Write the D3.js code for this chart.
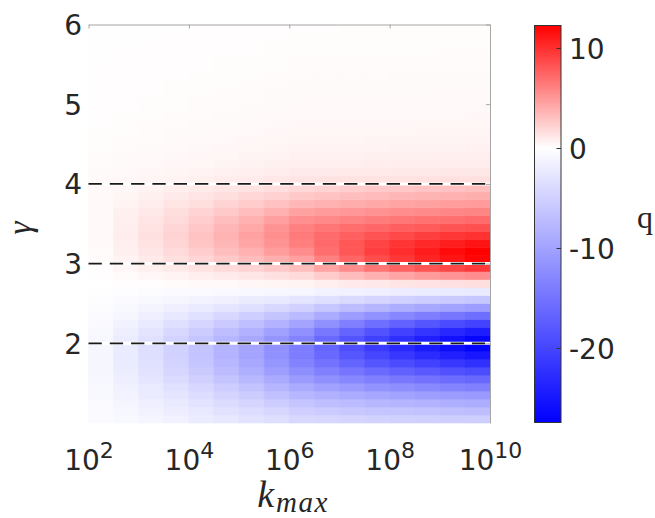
<!DOCTYPE html>
<html>
<head>
<meta charset="utf-8">
<script src="https://cdn.jsdelivr.net/npm/d3@7"></script>
<style>
  html, body { margin: 0; padding: 0; background: #ffffff; }
  svg { display: block; }
</style>
</head>
<body>
<svg id="chart" width="655" height="518"></svg>
<script>
// Grid cell edges: log10(k_max) along x, gamma along y
const logKEdges = [2, 2.5, 3, 3.5, 4, 4.5, 5, 5.5, 6, 6.5, 7, 7.5, 8, 8.5, 9, 9.5, 10];
const gammaEdges = [1.0, 1.1, 1.2, 1.3, 1.4, 1.5, 1.6, 1.7, 1.8, 1.9,
                    2.0, 2.1, 2.2, 2.3, 2.4, 2.5, 2.6, 2.7, 2.8, 2.9,
                    3.0, 3.1, 3.2, 3.3, 3.4, 3.5, 3.6, 3.7, 3.8, 3.9,
                    4.0, 4.1, 4.2, 4.3, 4.4, 4.5, 4.6, 4.7, 4.8, 4.9,
                    5.0, 5.1, 5.2, 5.3, 5.4, 5.5, 5.6, 5.7, 5.8, 5.9, 6.0];

// q values: one row per gamma cell (lowest gamma first), one column per k_max cell
const q = [
  [-0.4,-0.7,-1.1,-1.5,-2.0,-2.5,-3.0,-3.6,-4.2,-4.4,-4.6,-4.8,-4.9,-5.1,-5.2,-5.3],
  [-0.5,-0.9,-1.4,-1.9,-2.5,-3.1,-3.7,-4.4,-5.2,-5.6,-5.9,-6.2,-6.4,-6.6,-6.8,-7.0],
  [-0.6,-1.1,-1.7,-2.3,-3.0,-3.8,-4.5,-5.5,-6.4,-6.9,-7.3,-7.7,-8.0,-8.3,-8.6,-8.8],
  [-0.7,-1.3,-2.1,-2.8,-3.7,-4.6,-5.5,-6.7,-7.8,-8.4,-9.0,-9.5,-10.0,-10.4,-10.7,-11.0],
  [-0.8,-1.6,-2.4,-3.3,-4.3,-5.4,-6.5,-7.9,-9.2,-10.1,-10.9,-11.6,-12.2,-12.7,-13.2,-13.6],
  [-0.9,-1.8,-2.8,-3.9,-5.1,-6.3,-7.6,-9.2,-10.8,-11.9,-12.9,-13.8,-14.5,-15.2,-15.8,-16.3],
  [-1.0,-2.0,-3.1,-4.4,-5.7,-7.2,-8.6,-10.4,-12.2,-13.6,-14.9,-16.0,-17.0,-17.9,-18.7,-19.3],
  [-1.0,-2.1,-3.3,-4.7,-6.2,-7.8,-9.4,-11.3,-13.3,-15.1,-16.7,-18.2,-19.4,-20.5,-21.5,-22.3],
  [-1.0,-2.2,-3.5,-4.9,-6.5,-8.2,-9.8,-11.9,-14.0,-16.2,-18.2,-19.9,-21.5,-22.8,-24.0,-25.0],
  [-1.0,-2.2,-3.5,-4.9,-6.5,-8.2,-9.8,-11.9,-14.0,-16.6,-19.0,-21.1,-23.0,-24.6,-26.0,-27.2],
  [-0.9,-2.0,-3.3,-4.7,-6.2,-7.8,-9.4,-11.4,-13.4,-16.1,-18.5,-20.6,-22.5,-24.1,-25.6,-26.8],
  [-0.8,-1.8,-2.9,-4.2,-5.5,-7.0,-8.4,-10.2,-12.0,-14.5,-16.7,-18.6,-20.4,-21.8,-23.2,-24.3],
  [-0.6,-1.4,-2.4,-3.4,-4.5,-5.7,-6.9,-8.3,-9.8,-11.9,-13.8,-15.5,-16.9,-18.2,-19.4,-20.3],
  [-0.4,-1.0,-1.7,-2.5,-3.3,-4.3,-5.2,-6.3,-7.4,-9.0,-10.5,-11.8,-12.9,-13.9,-14.8,-15.5],
  [-0.3,-0.7,-1.2,-1.7,-2.2,-2.8,-3.4,-4.2,-4.9,-6.0,-7.0,-7.9,-8.7,-9.4,-10.0,-10.5],
  [-0.2,-0.4,-0.7,-1.0,-1.3,-1.6,-2.0,-2.4,-2.8,-3.4,-4.0,-4.5,-5.0,-5.4,-5.7,-6.0],
  [-0.1,-0.2,-0.3,-0.4,-0.5,-0.6,-0.7,-0.9,-1.0,-1.3,-1.5,-1.7,-1.9,-2.0,-2.2,-2.3],
  [0.0,0.1,0.1,0.2,0.3,0.3,0.4,0.5,0.6,0.8,1.0,1.1,1.3,1.4,1.5,1.6],
  [0.1,0.2,0.4,0.6,0.8,1.0,1.2,1.5,1.8,2.5,3.2,3.8,4.3,4.8,5.2,5.5],
  [0.1,0.4,0.7,1.0,1.4,1.8,2.1,2.6,3.1,4.4,5.5,6.6,7.5,8.2,8.9,9.5],
  [0.2,0.6,1.0,1.5,2.0,2.6,3.2,3.9,4.6,6.1,7.4,8.6,9.6,10.5,11.3,12.0],
  [0.2,0.7,1.2,1.8,2.4,3.1,3.8,4.7,5.5,6.9,8.1,9.2,10.1,10.9,11.7,12.3],
  [0.3,0.8,1.4,2.0,2.8,3.5,4.3,5.2,6.2,7.2,8.1,9.0,9.7,10.3,10.8,11.3],
  [0.3,0.9,1.5,2.1,2.9,3.7,4.5,5.4,6.4,7.1,7.7,8.3,8.8,9.2,9.6,9.9],
  [0.3,0.8,1.4,2.0,2.7,3.5,4.2,5.2,6.1,6.6,7.0,7.3,7.7,7.9,8.2,8.4],
  [0.3,0.8,1.3,1.8,2.4,3.1,3.8,4.6,5.4,5.7,6.0,6.3,6.6,6.8,6.9,7.1],
  [0.3,0.7,1.1,1.6,2.1,2.6,3.2,3.8,4.5,4.8,5.0,5.3,5.5,5.6,5.8,5.9],
  [0.3,0.6,0.9,1.3,1.6,2.1,2.5,3.0,3.5,3.8,4.0,4.2,4.4,4.5,4.7,4.8],
  [0.3,0.5,0.7,1.0,1.3,1.6,1.9,2.2,2.6,2.9,3.1,3.3,3.5,3.6,3.8,3.9],
  [0.3,0.4,0.6,0.8,1.0,1.2,1.4,1.6,1.9,2.1,2.4,2.6,2.7,2.9,3.0,3.1],
  [0.30,0.39,0.49,0.60,0.72,0.85,0.98,1.14,1.30,1.33,1.36,1.39,1.41,1.44,1.47,1.50],
  [0.25,0.32,0.39,0.48,0.57,0.66,0.76,0.88,1.00,1.02,1.04,1.06,1.09,1.11,1.13,1.15],
  [0.20,0.25,0.31,0.38,0.45,0.53,0.61,0.70,0.80,0.82,0.83,0.85,0.87,0.89,0.90,0.92],
  [0.18,0.22,0.27,0.32,0.38,0.44,0.51,0.58,0.66,0.68,0.69,0.71,0.72,0.74,0.75,0.77],
  [0.16,0.20,0.24,0.28,0.33,0.38,0.43,0.50,0.56,0.57,0.59,0.60,0.61,0.62,0.64,0.65],
  [0.14,0.17,0.20,0.24,0.28,0.33,0.37,0.43,0.48,0.49,0.50,0.51,0.53,0.54,0.55,0.56],
  [0.13,0.16,0.19,0.22,0.25,0.29,0.33,0.37,0.42,0.43,0.44,0.45,0.45,0.46,0.47,0.48],
  [0.12,0.14,0.17,0.20,0.23,0.26,0.29,0.33,0.37,0.38,0.38,0.39,0.40,0.41,0.41,0.42],
  [0.11,0.13,0.15,0.18,0.20,0.23,0.26,0.29,0.33,0.34,0.34,0.35,0.35,0.36,0.36,0.37],
  [0.10,0.12,0.14,0.16,0.18,0.20,0.23,0.26,0.29,0.30,0.30,0.31,0.31,0.32,0.32,0.33],
  [0.10,0.11,0.13,0.15,0.17,0.19,0.21,0.23,0.26,0.27,0.27,0.28,0.28,0.29,0.29,0.30],
  [0.09,0.10,0.12,0.14,0.15,0.17,0.19,0.22,0.24,0.24,0.25,0.25,0.26,0.26,0.27,0.27],
  [0.09,0.10,0.11,0.13,0.14,0.16,0.18,0.20,0.22,0.22,0.23,0.23,0.24,0.24,0.25,0.25],
  [0.08,0.09,0.10,0.12,0.13,0.15,0.16,0.18,0.20,0.20,0.21,0.21,0.22,0.22,0.23,0.23],
  [0.08,0.09,0.10,0.11,0.12,0.14,0.15,0.16,0.18,0.18,0.19,0.19,0.20,0.20,0.21,0.21],
  [0.07,0.08,0.09,0.10,0.11,0.13,0.14,0.15,0.17,0.17,0.18,0.18,0.18,0.19,0.19,0.19],
  [0.07,0.08,0.09,0.09,0.10,0.11,0.12,0.14,0.15,0.15,0.16,0.16,0.16,0.16,0.17,0.17],
  [0.06,0.07,0.08,0.08,0.09,0.10,0.11,0.13,0.14,0.14,0.15,0.15,0.15,0.15,0.16,0.16],
  [0.06,0.07,0.07,0.08,0.09,0.10,0.11,0.12,0.13,0.13,0.14,0.14,0.14,0.14,0.15,0.15],
  [0.05,0.06,0.06,0.07,0.08,0.09,0.10,0.11,0.12,0.12,0.13,0.13,0.13,0.13,0.14,0.14]
];

const kTickExps = [2, 4, 6, 8, 10];
const gammaTicks = [2, 3, 4, 5, 6];
const qTicks = [-20, -10, 0, 10];
const guideGammas = [2, 3, 4];
const qLimits = [-27.45, 12.25];

const textColor = "#262626";
const sansFont = "'DejaVu Sans', Verdana, sans-serif";
const serifFont = "'Liberation Serif', 'Times New Roman', serif";
const tickFontSize = 28;

const plot = { left: 88.5, right: 490, top: 24.5, bottom: 423 };
const cbar = { left: 534.5, right: 561, top: 25.5, bottom: 422.5 };

const svg = d3.select("#chart");

const x = d3.scaleLog().domain([1e2, 1e10]).range([plot.left, plot.right]);
const y = d3.scaleLinear().domain([1, 6]).range([plot.bottom, plot.top]);

// blue - white - red diverging map, white at q = 0
const color = d3.scaleLinear()
  .domain([qLimits[0], 0, qLimits[1]])
  .range(["#0000ff", "#ffffff", "#ff0000"])
  .clamp(true);

// heat map cells
const cells = [];
q.forEach((row, i) => {
  row.forEach((v, j) => {
    cells.push({ k0: Math.pow(10, logKEdges[j]), k1: Math.pow(10, logKEdges[j + 1]),
                 g0: gammaEdges[i], g1: gammaEdges[i + 1], v });
  });
});

svg.append("g")
  .selectAll("rect")
  .data(cells)
  .join("rect")
  .attr("x", d => x(d.k0))
  .attr("y", d => y(d.g1))
  .attr("width", d => x(d.k1) - x(d.k0))
  .attr("height", d => y(d.g0) - y(d.g1))
  .attr("fill", d => color(d.v))
  .attr("stroke", d => color(d.v))
  .attr("stroke-width", 0.6);

// dashed guides at gamma = 2, 3, 4 (white underlay with dark dashes)
const guides = svg.append("g");
guideGammas.forEach(g => {
  guides.append("line")
    .attr("x1", plot.left).attr("x2", plot.right)
    .attr("y1", y(g)).attr("y2", y(g))
    .attr("stroke", "#ffffff").attr("stroke-width", 3);
  guides.append("line")
    .attr("x1", plot.left).attr("x2", plot.right)
    .attr("y1", y(g)).attr("y2", y(g))
    .attr("stroke", "#1a1a1a").attr("stroke-width", 1.8)
    .attr("stroke-dasharray", "13.3,8");
});

// box: top and right edges with inward ticks
const kTickVals = kTickExps.map(e => Math.pow(10, e));
const topAxis = svg.append("g")
  .attr("transform", `translate(0,${plot.top})`)
  .call(d3.axisTop(x).tickValues(kTickVals).tickSize(-4).tickSizeOuter(0).tickFormat(""));
topAxis.selectAll("path, line").attr("stroke", "#a6a6a6").attr("stroke-width", 1);

const rightAxis = svg.append("g")
  .attr("transform", `translate(${plot.right},0)`)
  .call(d3.axisRight(y).tickValues(gammaTicks).tickSize(-4).tickSizeOuter(0).tickFormat(""));
rightAxis.selectAll("path, line").attr("stroke", "#a6a6a6").attr("stroke-width", 1);

// y tick labels
const yAxis = svg.append("g")
  .attr("transform", `translate(${plot.left},0)`)
  .call(d3.axisLeft(y).tickValues(gammaTicks).tickSize(0).tickPadding(6.5).tickFormat(d => String(d)));
yAxis.select(".domain").remove();
yAxis.selectAll("text")
  .attr("font-family", sansFont).attr("font-size", tickFontSize).attr("fill", textColor)
  .attr("dy", "0.36em");

// x tick labels as powers of ten
const xAxis = svg.append("g")
  .attr("transform", `translate(0,${plot.bottom})`)
  .call(d3.axisBottom(x).tickValues(kTickVals).tickSize(0).tickFormat(""));
xAxis.select(".domain").remove();
xAxis.selectAll(".tick").each(function (d) {
  const t = d3.select(this).select("text")
    .attr("y", 47).attr("dy", null)
    .attr("font-family", sansFont).attr("fill", textColor)
    .attr("text-anchor", "middle");
  t.text(null);
  t.append("tspan").attr("font-size", tickFontSize).text("10");
  t.append("tspan").attr("font-size", 22).attr("dy", -12).text(String(Math.round(Math.log10(d))));
});

// axis labels
svg.append("text")
  .attr("transform", `translate(30.5,228) rotate(-90)`)
  .attr("text-anchor", "middle")
  .attr("font-family", serifFont).attr("font-style", "italic")
  .attr("font-size", 33).attr("fill", textColor)
  .text("γ");

const xl = svg.append("text")
  .attr("x", 293).attr("y", 507)
  .attr("text-anchor", "middle")
  .attr("font-family", serifFont).attr("font-style", "italic").attr("fill", textColor);
xl.append("tspan").attr("font-size", 38).text("k");
xl.append("tspan").attr("font-size", 29).attr("dy", 5).attr("dx", 2)
  .attr("letter-spacing", 1.5).text("max");

// colour bar
const cy = d3.scaleLinear().domain(qLimits).range([cbar.bottom, cbar.top]);
const defs = svg.append("defs");
const grad = defs.append("linearGradient")
  .attr("id", "qGrad").attr("x1", 0).attr("x2", 0).attr("y1", 1).attr("y2", 0);
const stopVals = [qLimits[0], 0, qLimits[1]];
stopVals.forEach(v => {
  grad.append("stop")
    .attr("offset", (v - qLimits[0]) / (qLimits[1] - qLimits[0]))
    .attr("stop-color", color(v));
});
svg.append("rect")
  .attr("x", cbar.left).attr("y", cbar.top)
  .attr("width", cbar.right - cbar.left).attr("height", cbar.bottom - cbar.top)
  .attr("fill", "url(#qGrad)")
  .attr("stroke", "#333333").attr("stroke-width", 1);

const cAxis = svg.append("g")
  .attr("transform", `translate(${cbar.right},0)`)
  .call(d3.axisRight(cy).tickValues(qTicks).tickSize(-4.5).tickSizeOuter(0).tickPadding(8)
    .tickFormat(d => String(d)));
cAxis.select(".domain").remove();
cAxis.selectAll("line").attr("stroke", "#333333");
cAxis.selectAll("text")
  .attr("font-family", sansFont).attr("font-size", tickFontSize).attr("fill", textColor)
  .attr("dy", "0.36em");

svg.append("text")
  .attr("x", 637).attr("y", 228)
  .attr("font-family", serifFont).attr("font-size", 32).attr("fill", textColor)
  .text("q");
</script>
</body>
</html>
